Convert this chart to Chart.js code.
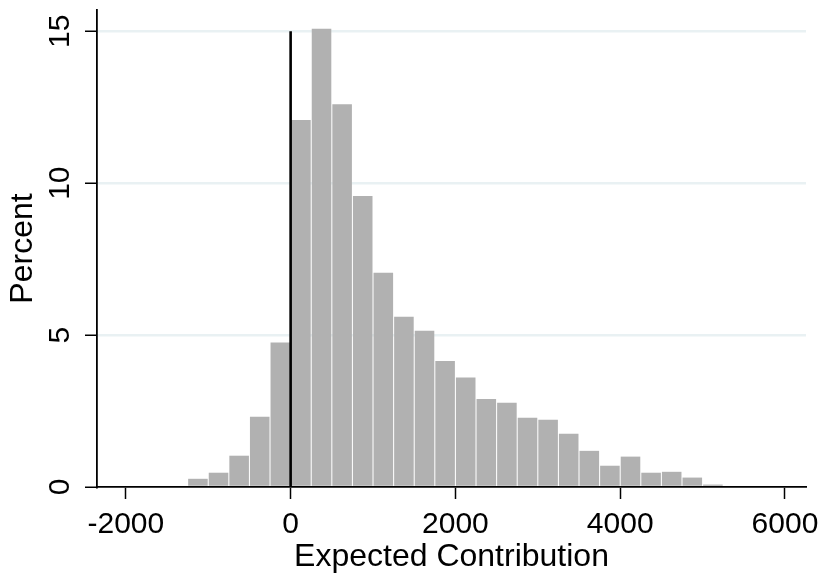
<!DOCTYPE html>
<html>
<head>
<meta charset="utf-8">
<script src="https://cdn.jsdelivr.net/npm/chart.js@4/dist/chart.umd.min.js"></script>
<style>
  html, body { margin: 0; padding: 0; background: #ffffff; }
  #wrap { width: 825px; height: 576px; }
</style>
</head>
<body>
<div id="wrap"><canvas id="c" width="825" height="576"></canvas></div>
<script>
// Histogram bin left edges (width 250) and percents
const binStarts = [-1250, -1000, -750, -500, -250, 0, 250, 500, 750, 1000, 1250, 1500, 1750,
                   2000, 2250, 2500, 2750, 3000, 3250, 3500, 3750, 4000, 4250, 4500, 4750, 5000];
const percents  = [0.27, 0.47, 1.03, 2.31, 4.76, 12.08, 15.08, 12.6, 9.58, 7.05, 5.6, 5.14, 4.15,
                   3.6, 2.9, 2.77, 2.28, 2.21, 1.75, 1.19, 0.70, 1.0, 0.47, 0.5, 0.31, 0.08];
const binWidth = 250;
const xTickValues = [-2000, 0, 2000, 4000, 6000];
const yTickValues = [0, 5, 10, 15];
const refLineX = [0, 0];
const refLineY = [0, 15];

const barData = binStarts.map((s, i) => ({ x: s + binWidth / 2, y: percents[i] }));
const lineData = refLineX.map((x, i) => ({ x: x, y: refLineY[i] }));

const FONT = "'Liberation Sans', Arial, Helvetica, sans-serif";

new Chart(document.getElementById('c'), {
  type: 'bar',
  data: {
    datasets: [
      {
        type: 'line',
        data: lineData,
        borderColor: '#000000',
        borderWidth: 2.6,
        pointRadius: 0,
        fill: false,
        order: 0
      },
      {
        type: 'bar',
        data: barData,
        backgroundColor: '#b1b1b1',
        borderWidth: 0,
        barPercentage: 0.95,
        categoryPercentage: 1.0,
        order: 1
      }
    ]
  },
  options: {
    responsive: false,
    animation: false,
    devicePixelRatio: 1,
    layout: { padding: { top: 10, right: 19, left: 0, bottom: 0 } },
    plugins: { legend: { display: false }, tooltip: { enabled: false } },
    scales: {
      x: {
        type: 'linear',
        min: -2350,
        max: 6255,
        offset: false,
        afterFit: s => { s.height = 89; s.paddingLeft = 0; s.paddingRight = 0; },
        afterBuildTicks: s => { s.ticks = xTickValues.map(v => ({ value: v })); },
        grid: {
          offset: false,
          drawOnChartArea: false,
          drawTicks: true,
          tickLength: 12,
          tickColor: '#000000',
          tickWidth: 1.5
        },
        border: { color: '#000000', width: 1.8 },
        ticks: {
          color: '#000000',
          font: { family: FONT, size: 30 },
          padding: 8,
          maxRotation: 0,
          autoSkip: false,
          callback: v => String(v)
        },
        title: {
          display: true,
          text: 'Expected Contribution',
          color: '#000000',
          font: { family: FONT, size: 32 },
          padding: { top: 0, bottom: 0 }
        }
      },
      y: {
        type: 'linear',
        min: 0,
        max: 15.7,
        afterFit: s => { s.width = 97; s.paddingTop = 0; s.paddingBottom = 0; },
        afterBuildTicks: s => { s.ticks = yTickValues.map(v => ({ value: v })); },
        grid: {
          offset: false,
          drawOnChartArea: true,
          drawTicks: true,
          tickLength: 12,
          color: ctx => (ctx.tick && ctx.tick.value === 0) ? 'rgba(0,0,0,0)' : '#e9f1f3',
          lineWidth: 2.5,
          tickColor: '#000000',
          tickWidth: 1.5
        },
        border: { color: '#000000', width: 1.8 },
        ticks: {
          color: '#000000',
          font: { family: FONT, size: 30 },
          padding: 8,
          minRotation: 90,
          maxRotation: 90,
          crossAlign: 'center',
          autoSkip: false,
          callback: v => String(v)
        },
        title: {
          display: true,
          text: 'Percent',
          color: '#000000',
          font: { family: FONT, size: 32 },
          padding: { top: 4, bottom: 0 }
        }
      }
    }
  }
});
</script>
</body>
</html>
